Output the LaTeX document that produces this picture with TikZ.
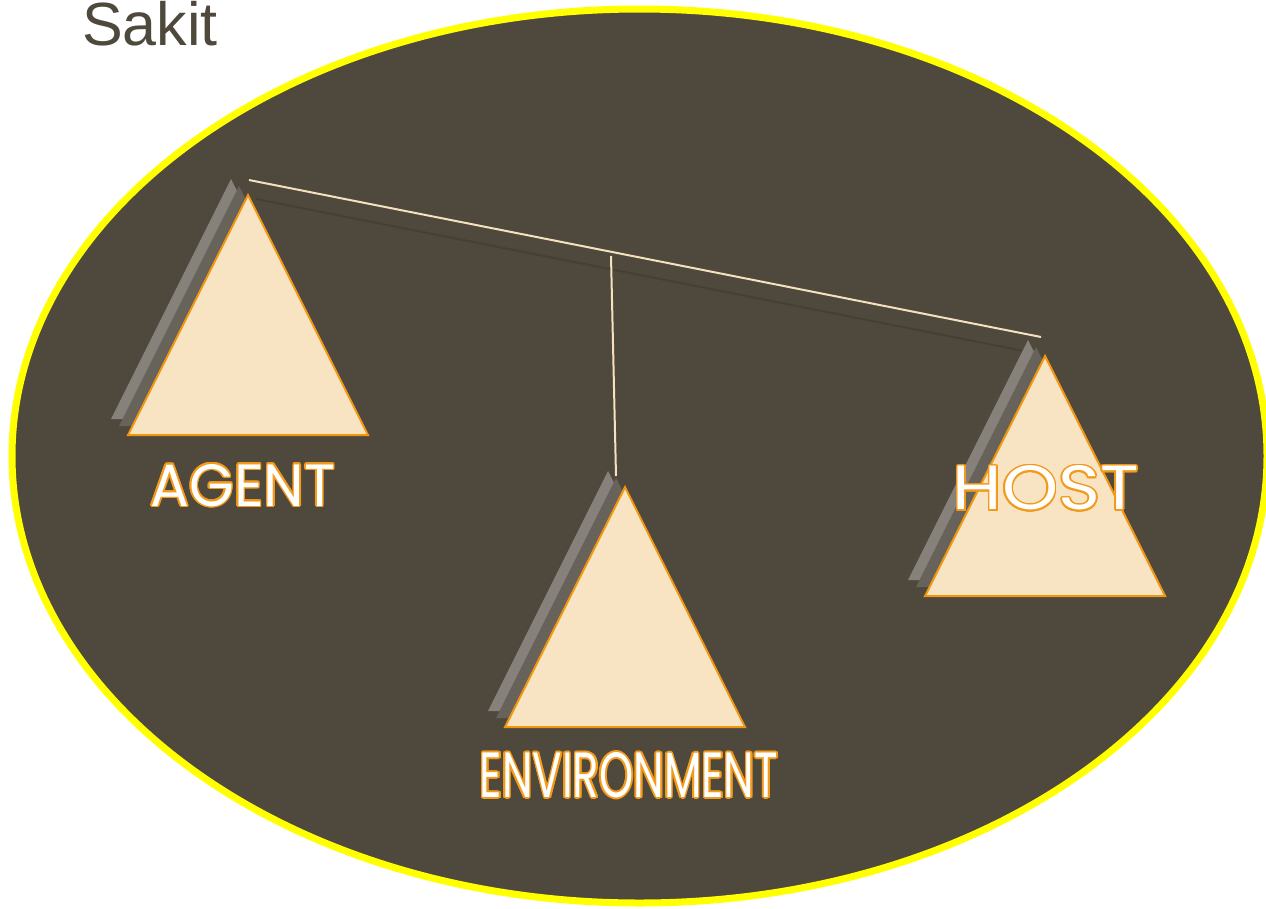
\documentclass[tikz,border=0pt]{standalone}
\usepackage{fontspec}
\setmainfont{Liberation Sans}
\newfontfamily\labelfont{Poppins}
\usepackage{graphicx}
\usepackage{contour}
\contourlength{1.6pt}
\definecolor{bg}{HTML}{4F493D}
\definecolor{rim}{HTML}{FFFF00}
\definecolor{trifill}{HTML}{F8E3C3}
\definecolor{triedge}{HTML}{F0960F}
\definecolor{shlight}{HTML}{86817A}
\definecolor{shdark}{HTML}{67625A}
\definecolor{beamcol}{HTML}{F5E1C0}
\definecolor{beamshadow}{HTML}{464034}
\definecolor{labeledge}{HTML}{F39A1A}
\definecolor{titlecol}{HTML}{4F493D}
\newcommand\lab[3]{\contour{labeledge}{\resizebox{#2pt}{#3pt}{\labelfont #1}}}
\tikzset{
  balance/.pic={
    \fill[shlight] (-17,-16) -- (-137,224) -- (103,224) -- cycle;
    \fill[shdark] (-9,-9) -- (-129,231) -- (111,231) -- cycle;
    \filldraw[fill=trifill,draw=triedge,line width=2pt,line join=miter] (0,0) -- (-120,240) -- (120,240) -- cycle;
  },
  beamline/.style={draw=beamcol,line width=2pt},
  lbl/.style={inner sep=0pt,text=white},
}
\begin{document}
\begin{tikzpicture}[x=1pt,y=-1pt]
\useasboundingbox (0,0) rectangle (1266,908);
\fill[white] (0,0) rectangle (1266,908);
\node[anchor=base west,text=titlecol,font=\fontsize{61}{61}\selectfont,inner sep=0pt] (title) at (82,45) {Sakit};
\draw[fill=bg,draw=rim,line width=7pt] (639.5,456) ellipse [x radius=627.5,y radius=447];
\coordinate (shadowL) at (256,199);
\coordinate (shadowR) at (1034,353);
\draw[beamshadow,line width=2pt] (shadowL) -- (shadowR);
\pic (agent) at (248,195) {balance};
\pic (env) at (625,487) {balance};
\pic (host) at (1045,356) {balance};
\coordinate (beamL) at (249,180);
\coordinate (beamR) at (1041,337);
\coordinate (hangTop) at (611,256);
\coordinate (hangBot) at (616,476);
\draw[beamline] (beamL) -- (beamR);
\draw[beamline] (hangTop) -- (hangBot);
\node[lbl] (agentlabel) at (243,486) {\lab{AGENT}{185}{42}};
\node[lbl] (envlabel) at (629,776) {\lab{ENVIRONMENT}{298}{45}};
\node[lbl] (hostlabel) at (1046,489) {\lab{HOST}{186}{44}};
\end{tikzpicture}
\end{document}
